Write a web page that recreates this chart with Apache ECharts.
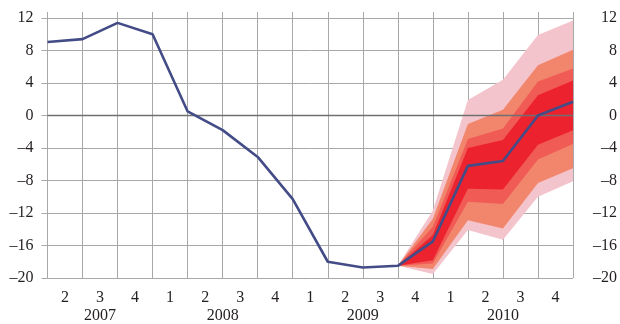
<!DOCTYPE html>
<html>
<head>
<meta charset="utf-8">
<script src="https://cdn.jsdelivr.net/npm/echarts@6/dist/echarts.min.js"></script>
<style>
  html, body { margin: 0; padding: 0; background: #fff; }
  #chart { width: 620px; height: 324px; }
</style>
</head>
<body>
<div id="chart"></div>
<script>
// Quarter labels along the bottom, 2007 Q2 to 2010 Q4
const quarterLabels = ['2','3','4','1','2','3','4','1','2','3','4','1','2','3','4'];
const yearLabels = ['2007', '2008', '2009', '2010'];

// Value axis range
const yMin = -20;
const yMax = 12;
const yStep = 4;

// Outturn / central projection, one value per quarter boundary
const outturn = [9.05, 9.4, 11.4, 10.0, 0.5, -1.8, -5.1, -10.3, -18.0, -18.7, -18.5, -15.5, -6.2, -5.6, 0.0, 1.7];

// Fan bands start at this boundary index
const fanStart = 10;
const band1Low  = [-18.5, -17.8, -9.0, -9.1, -3.6, -1.8];
const band1High = [-18.5, -14.7, -4.0, -3.0, 2.5, 4.3];
const band2Low  = [-18.5, -18.2, -10.6, -10.9, -5.4, -3.5];
const band2High = [-18.5, -13.7, -2.9, -1.6, 4.2, 5.8];
const band3Low  = [-18.5, -18.9, -12.9, -13.9, -8.3, -6.5];
const band3High = [-18.5, -12.7, -1.05, 0.7, 6.2, 8.1];
const band4Low  = [-18.5, -19.5, -14.1, -15.3, -10.0, -8.1];
const band4High = [-18.5, -11.7, 1.9, 4.4, 9.9, 11.7];

const gridColor = '#a8a8a8';
const textStyle = { fontFamily: 'Liberation Serif', fontSize: 16, color: '#231f20' };
const fmt = v => String(v).replace('-', '\u2013');

// Label positions: mid-quarter and mid-year
const quarterPos = quarterLabels.map((_, i) => i + 0.5);
const yearPos = [];
{
  let start = 0;
  for (let i = 1; i <= quarterLabels.length; i++) {
    if (i === quarterLabels.length || quarterLabels[i] === '1') {
      yearPos.push((start + i) / 2);
      start = i;
    }
  }
}
const nSteps = quarterLabels.length;

// One filled polygon between a band's lower and upper edges
function bandSeries(low, high, color) {
  const xs = low.map((_, i) => fanStart + i);
  return {
    type: 'custom', silent: true, clip: true,
    data: xs.map((x, i) => [x, high[i]]),
    renderItem: (params, api) => {
      if (params.dataIndex !== 0) return null;
      const upper = xs.map((x, i) => api.coord([x, high[i]]));
      const lower = xs.map((x, i) => api.coord([x, low[i]])).reverse();
      return {
        type: 'polygon',
        shape: { points: upper.concat(lower) },
        style: { fill: color }
      };
    }
  };
}

const chart = echarts.init(document.getElementById('chart'), null, { renderer: 'canvas' });

const axisLineStyle = { show: true, lineStyle: { color: gridColor, width: 1 } };
const tickStyle = { show: true, length: 6, lineStyle: { color: gridColor, width: 1 } };

chart.setOption({
  animation: false,
  grid: { left: 47.5, right: 47, top: 18, bottom: 46 },
  xAxis: [
    {
      type: 'value', min: 0, max: nSteps, interval: 1, position: 'bottom',
      axisLine: axisLineStyle,
      axisTick: { show: true, length: 5, lineStyle: { color: gridColor } },
      splitLine: { show: true, lineStyle: { color: gridColor, width: 1 } },
      axisLabel: {
        ...textStyle, margin: 11.5,
        customValues: quarterPos,
        formatter: v => quarterLabels[Math.floor(v)]
      }
    },
    {
      type: 'value', min: 0, max: nSteps, position: 'bottom',
      axisLine: { show: false }, axisTick: { show: false }, splitLine: { show: false },
      axisLabel: {
        ...textStyle, margin: 29.5,
        customValues: yearPos,
        formatter: v => yearLabels[yearPos.indexOf(v)]
      }
    },
    {
      type: 'value', min: 0, max: nSteps, interval: 1, position: 'top',
      axisLine: axisLineStyle, axisTick: tickStyle,
      splitLine: { show: false }, axisLabel: { show: false }
    }
  ],
  yAxis: [
    {
      type: 'value', min: yMin, max: yMax, interval: yStep, position: 'left',
      axisLine: axisLineStyle, axisTick: tickStyle,
      splitLine: { show: true, lineStyle: { color: gridColor, width: 1 } },
      axisLabel: { ...textStyle, margin: 14, formatter: fmt }
    },
    {
      type: 'value', min: yMin, max: yMax, interval: yStep, position: 'right',
      axisLine: axisLineStyle, axisTick: tickStyle,
      splitLine: { show: false },
      axisLabel: { ...textStyle, margin: 44, align: 'right', formatter: fmt }
    }
  ],
  series: [
    // zero line
    {
      type: 'line', data: [], silent: true,
      markLine: {
        silent: true, symbol: 'none', label: { show: false },
        lineStyle: { color: '#6f6f6f', width: 1.3, type: 'solid' },
        data: [{ yAxis: 0 }]
      }
    },
    bandSeries(band4Low, band4High, '#f3c4cb'),
    bandSeries(band3Low, band3High, '#f2866d'),
    bandSeries(band2Low, band2High, '#f15b55'),
    bandSeries(band1Low, band1High, '#ec232e'),
    {
      type: 'line', symbol: 'none', silent: true,
      lineStyle: { color: '#434c86', width: 2.6 },
      data: outturn.map((v, i) => [i, v]),
      z: 5
    }
  ]
});
</script>
</body>
</html>
